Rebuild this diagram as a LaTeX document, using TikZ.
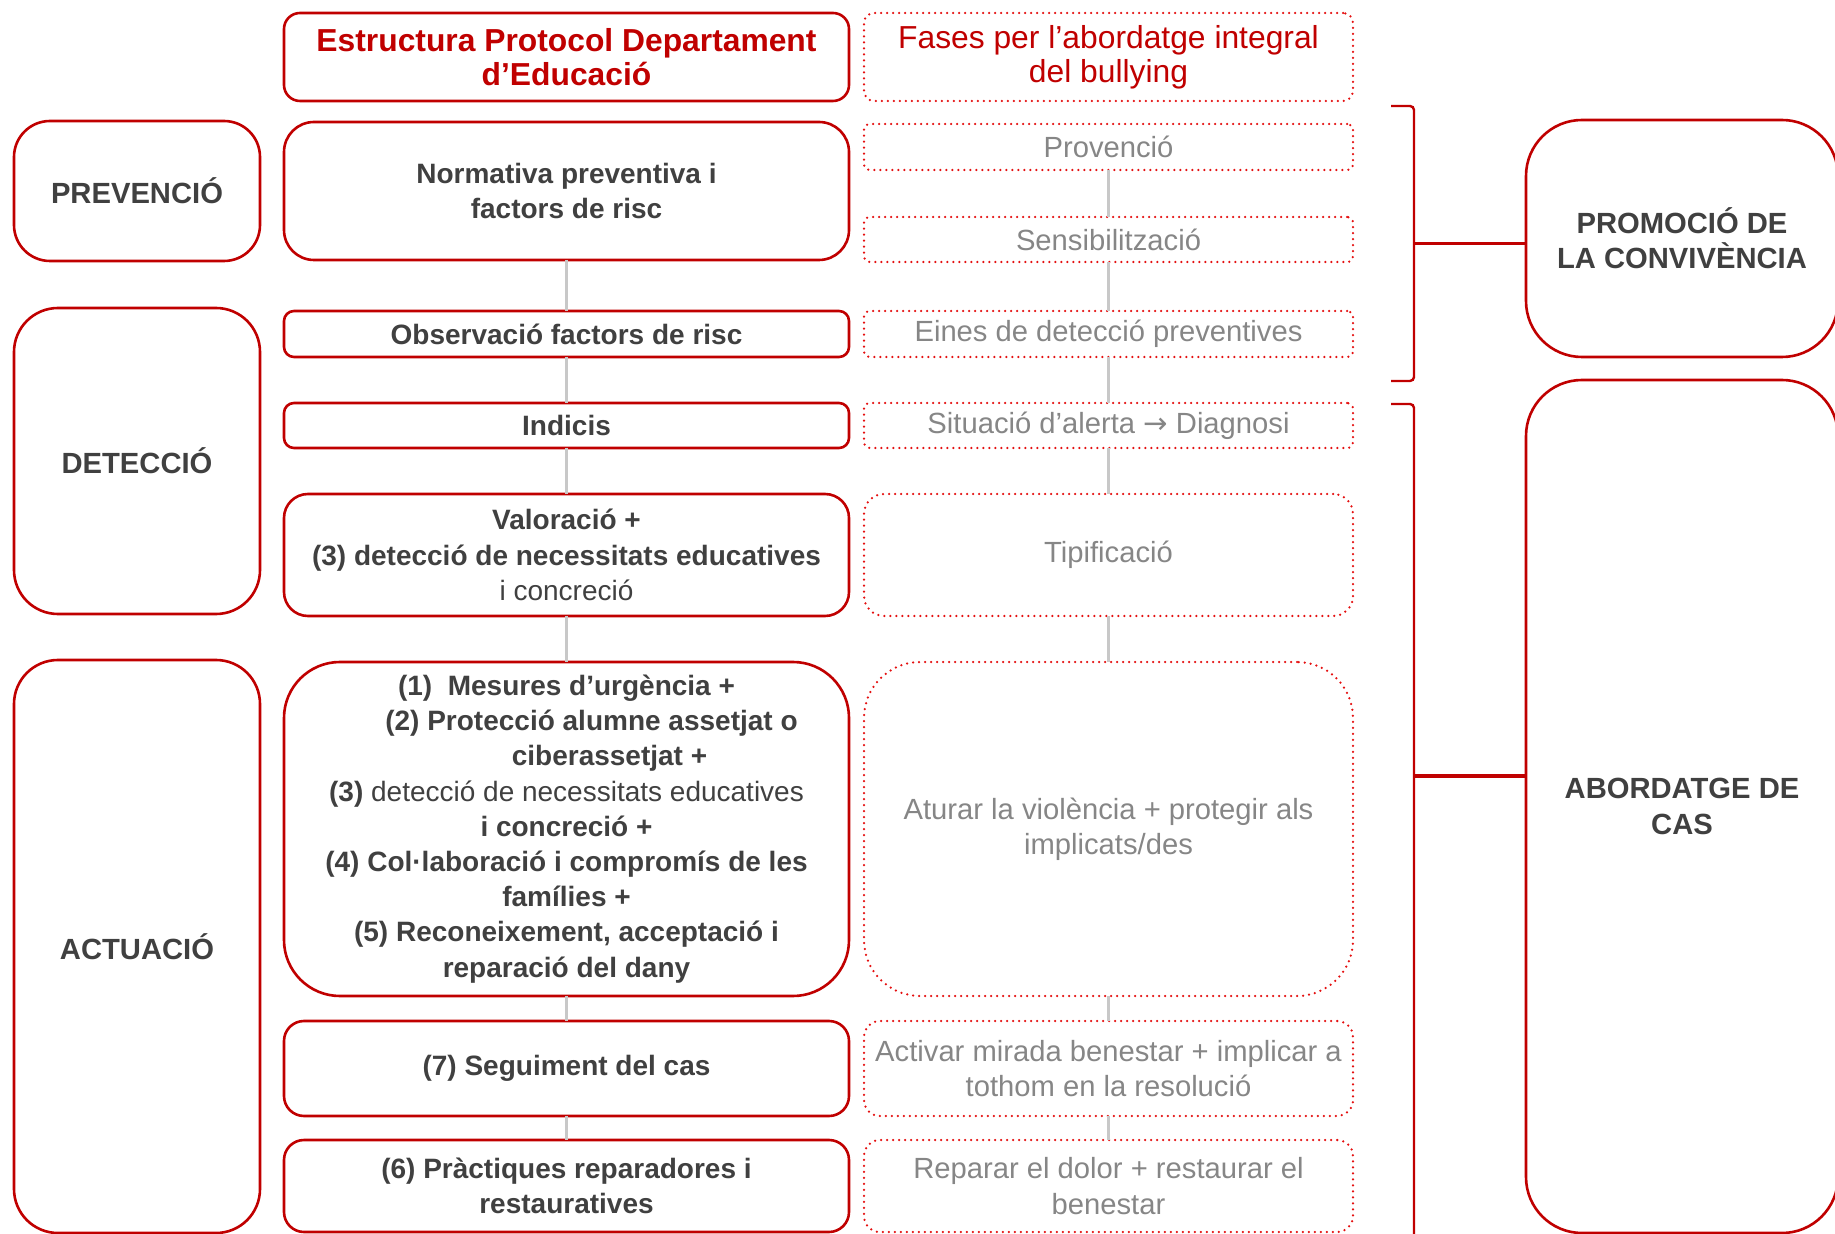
\documentclass[tikz,border=0pt]{standalone}
\usepackage{fontspec}
\setmainfont{Liberation Sans}
\newfontfamily\arrowfont{DejaVu Sans}
\usetikzlibrary{positioning}
\definecolor{protred}{RGB}{192,0,0}
\definecolor{dotred}{RGB}{228,16,16}
\definecolor{darktext}{RGB}{64,64,64}
\definecolor{greytext}{RGB}{134,134,134}
\definecolor{linkgrey}{RGB}{200,200,200}
\newcommand{\boxfont}{\fontsize{14.6pt}{17.6pt}\selectfont}
\newcommand{\stepfont}{\fontsize{14pt}{17.6pt}\selectfont}
\newcommand{\headfont}{\fontsize{15.9pt}{17pt}\selectfont}

\tikzset{
  base/.style={align=center,inner sep=0pt,outer sep=0pt,font=\boxfont},
  group/.style={base,draw=protred,line width=1.3pt,text=darktext,font=\boxfont\bfseries,minimum width=123pt},
  stepbox/.style={base,draw=protred,line width=1.3pt,text=darktext,font=\stepfont,minimum width=282.5pt},
  phase/.style={base,draw=dotred,line width=1.25pt,line cap=round,dash pattern=on 0pt off 3pt,text=greytext,minimum width=244.5pt},
  link/.style={draw=linkgrey,line width=1.6pt},
  brace/.style={draw=protred,line width=1.2pt},
}

\begin{document}
\begin{tikzpicture}[x=0.5pt,y=-0.5pt]
      \useasboundingbox (0,0) rectangle (1835,1234);
      % protocol column
      \node[stepbox,minimum height=44pt,rounded corners=8pt,text=protred,font=\headfont\bfseries] (estr) at (566.5,57) {Estructura Protocol Departament\\d’Educació};
      \node[stepbox,minimum height=69pt,rounded corners=15pt,below=10.5pt of estr] (norma) {\textbf{Normativa preventiva i}\\\textbf{factors de risc}};
      \node[stepbox,minimum height=23pt,rounded corners=5pt,below=25.5pt of norma] (obs) {\textbf{Observació factors de risc}};
      \node[stepbox,minimum height=22.5pt,rounded corners=5pt,below=23pt of obs] (ind) {\textbf{Indicis}};
      \node[stepbox,minimum height=61pt,rounded corners=12pt,below=23pt of ind] (val)
      {\textbf{Valoració +}\\\textbf{(3) detecció de necessitats educatives}\\i concreció};
      \node[stepbox,minimum height=167pt,rounded corners=28pt,below=23pt of val] (mes)
      {\textbf{(1)\ \ Mesures d’urgència +}\\
       \hspace*{25pt}\textbf{(2) Protecció alumne assetjat o}\\
       \hspace*{43pt}\textbf{ciberassetjat +}\\
       \textbf{(3)} detecció de necessitats educatives\\
       \textbf{i concreció +}\\
       \textbf{(4) Col·laboració i compromís de les}\\
       \textbf{famílies +}\\
       \textbf{(5) Reconeixement, acceptació i}\\
       \textbf{reparació del dany}};
      \node[stepbox,minimum height=47.5pt,rounded corners=10pt,below=12.5pt of mes] (seg) {\textbf{(7) Seguiment del cas}};
      \node[stepbox,minimum height=46pt,rounded corners=10pt,below=12pt of seg] (prac) {\textbf{(6) Pràctiques reparadores i}\\\textbf{restauratives}};

      % phases column
      \node[phase,minimum height=44pt,rounded corners=5pt,text=protred,font=\headfont,right=7.5pt of estr] (fases) {Fases per l’abordatge integral\\del bullying};
      \node[phase,minimum height=23pt,rounded corners=3pt] (prov) at (1108.5,147) {Provenció};
      \node[phase,minimum height=22.5pt,rounded corners=3pt] (sens) at (1108.5,239.5) {Sensibilització};
      \node[phase,minimum height=23pt,rounded corners=3pt,right=7.5pt of obs] (eines) {Eines de detecció preventives};
      \node[phase,minimum height=22.5pt,rounded corners=3pt,right=7.5pt of ind] (sit) {Situació d’alerta {\arrowfont →} Diagnosi};
      \node[phase,minimum height=61pt,rounded corners=10pt,right=7.5pt of val] (tipif) {Tipificació};
      \node[phase,minimum height=167pt,rounded corners=28pt,right=7.5pt of mes] (atur) {Aturar la violència + protegir als\\implicats/des};
      \node[phase,minimum height=47.5pt,rounded corners=8pt,right=7.5pt of seg] (activ) {Activar mirada benestar + implicar a\\tothom en la resolució};
      \node[phase,minimum height=46pt,rounded corners=8pt,right=7.5pt of prac] (repar) {Reparar el dolor + restaurar el\\benestar};

      % stages
      \node[group,minimum height=70pt,rounded corners=18pt] (prev) at (137,191) {PREVENCIÓ};
      \node[group,minimum height=153pt,rounded corners=22pt] (detec) at (137,461) {DETECCIÓ};
      \node[group,minimum height=286.5pt,rounded corners=22pt] (actu) at (137,946.5) {ACTUACIÓ};

      \node[group,minimum width=156pt,minimum height=118.5pt,rounded corners=28pt] (promo) at (1682,238.5) {PROMOCIÓ DE\\LA CONVIVÈNCIA};
      \node[group,minimum width=156pt,minimum height=426.5pt,rounded corners=28pt] (abord) at (1682,806.5) {ABORDATGE DE\\CAS};

      \path[link] (norma) -- (obs) (obs) -- (ind) (ind) -- (val)
             (val) -- (mes) (mes) -- (seg) (seg) -- (prac);
      \path[link] (prov) -- (sens) (sens) -- (eines) (eines) -- (sit)
             (sit) -- (tipif) (tipif) -- (atur) (atur) -- (activ) (activ) -- (repar);

      % brackets
      \draw[brace,rounded corners=2pt] (1391,106) -- (1414,106) -- (1414,381) -- (1391,381);
      \coordinate (promoTip) at (1414,243.5);
      \draw[brace,line width=1.6pt] (promoTip) -- (promoTip -| promo.west);
      \draw[brace,rounded corners=2pt] (1391,404) -- (1414,404) -- (1414,1240);
      \coordinate (abordTip) at (1414,776);
      \draw[brace,line width=1.6pt] (abordTip) -- (abordTip -| abord.west);
    \end{tikzpicture}
\end{document}
